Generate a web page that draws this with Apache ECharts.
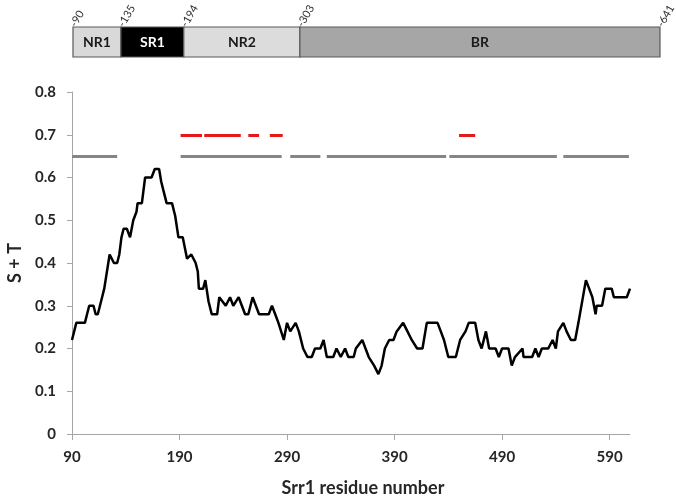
<!DOCTYPE html>
<html>
<head>
<meta charset="utf-8">
<script src="https://cdn.jsdelivr.net/npm/echarts@6/dist/echarts.min.js"></script>
<style>
  html, body { margin: 0; padding: 0; background: #fff; }
  #main { width: 676px; height: 497px; }
</style>
</head>
<body>
<div id="main"></div>
<script>
// domain map of Srr1
const domainNames = ['NR1', 'SR1', 'NR2', 'BR'];
const domainStarts = [90, 135, 194, 303];
const domainEnds = [135, 194, 303, 641];
const boundaryTicks = [90, 135, 194, 303, 641];

// S+T profile (residue, fraction)
const residues = [90, 94, 102, 104, 106, 110, 112, 114, 116, 118, 120, 125, 126, 129, 132, 134, 136, 138, 141, 144,
  147, 150, 151, 155, 158, 164, 167, 171, 173, 175, 178, 183, 186, 189, 193, 197, 201, 205, 207, 208,
  212, 214, 217, 220, 225, 227, 233, 237, 240, 245, 248, 251, 254, 258, 264, 273, 276, 279, 282, 287,
  290, 293, 298, 301, 305, 309, 313, 316, 321, 324, 327, 333, 336, 340, 344, 347, 352, 354, 360, 363,
  366, 371, 375, 378, 381, 385, 389, 392, 398, 402, 406, 411, 416, 420, 430, 433, 436, 440, 447, 451,
  456, 459, 465, 468, 471, 475, 478, 484, 487, 490, 496, 499, 502, 509, 510, 518, 521, 524, 527, 533,
  537, 540, 542, 547, 550, 554, 558, 561, 568, 571, 574, 577, 578, 583, 586, 592, 594, 606, 609];
const stValues = [0.22, 0.26, 0.26, 0.28, 0.30, 0.30, 0.28, 0.28, 0.30, 0.32, 0.34, 0.42, 0.42, 0.40, 0.40, 0.42, 0.46, 0.48, 0.48, 0.46,
  0.50, 0.52, 0.54, 0.54, 0.60, 0.60, 0.62, 0.62, 0.59, 0.57, 0.54, 0.54, 0.51, 0.46, 0.46, 0.41, 0.42, 0.40, 0.38, 0.34,
  0.34, 0.36, 0.31, 0.28, 0.28, 0.32, 0.30, 0.32, 0.30, 0.32, 0.30, 0.28, 0.28, 0.32, 0.28, 0.28, 0.30, 0.28, 0.26, 0.22,
  0.26, 0.24, 0.26, 0.24, 0.20, 0.18, 0.18, 0.20, 0.20, 0.22, 0.18, 0.18, 0.20, 0.18, 0.20, 0.18, 0.18, 0.20, 0.22, 0.20,
  0.18, 0.16, 0.14, 0.16, 0.20, 0.22, 0.22, 0.24, 0.26, 0.24, 0.22, 0.20, 0.20, 0.26, 0.26, 0.24, 0.22, 0.18, 0.18, 0.22,
  0.24, 0.26, 0.26, 0.22, 0.20, 0.24, 0.20, 0.20, 0.18, 0.20, 0.20, 0.16, 0.18, 0.20, 0.18, 0.18, 0.20, 0.18, 0.20, 0.20,
  0.22, 0.20, 0.24, 0.26, 0.24, 0.22, 0.22, 0.26, 0.36, 0.34, 0.32, 0.28, 0.30, 0.30, 0.34, 0.34, 0.32, 0.32, 0.34];

// region bars above the profile
const graySegments = [[90, 132], [191, 285], [293, 321], [327, 438], [441, 541], [547, 608]];
const redSegments = [[191, 211], [213, 247], [254, 264], [274, 286], [450, 465]];
const grayLevel = 0.65;
const redLevel = 0.7;

const xTicks = [90, 190, 290, 390, 490, 590];

const domainFill = ['#d9d9d9', '#000000', '#dcdcdc', '#a6a6a6'];
const domainText = ['#1a1a1a', '#ffffff', '#1a1a1a', '#1a1a1a'];
const font = 'Lato, "Open Sans", sans-serif';

let chart = echarts.init(document.getElementById('main'));

chart.setOption({
  animation: false,
  grid: [
    { left: 72, right: 46, top: 92, bottom: 63, outerBoundsMode: 'none' },
    { left: 73, right: 16, top: 27, height: 30, outerBoundsMode: 'none' }
  ],
  xAxis: [
    {
      type: 'value', min: 90, max: 609,
      name: 'Srr1 residue number', nameLocation: 'middle', nameGap: 45,
      nameTextStyle: { fontFamily: font, fontWeight: 'bold', fontSize: 18, color: '#262626', padding: [0, 0, 0, 24] },
      axisLine: { lineStyle: { color: '#a6a6a6', width: 1 } },
      axisTick: { customValues: xTicks, length: 6, lineStyle: { color: '#a6a6a6' } },
      axisLabel: { customValues: xTicks, margin: 16, fontFamily: font, fontWeight: 'bold', fontSize: 15, color: '#262626' },
      splitLine: { show: false }
    },
    {
      type: 'value', gridIndex: 1, min: 90, max: 641, position: 'top',
      axisLine: { show: false }, axisTick: { show: false }, splitLine: { show: false },
      axisLabel: {
        customValues: boundaryTicks, rotate: 60, margin: 1,
        formatter: v => '-' + v,
        fontFamily: font, fontSize: 11, color: '#333333'
      }
    }
  ],
  yAxis: [
    {
      type: 'value', min: 0, max: 0.8, interval: 0.1,
      name: 'S + T', nameLocation: 'middle', nameGap: 43,
      nameTextStyle: { fontFamily: font, fontWeight: 'bold', fontSize: 18, color: '#262626' },
      axisLine: { show: true, lineStyle: { color: '#a6a6a6', width: 1 } },
      axisTick: { show: true, length: 5, lineStyle: { color: '#a6a6a6' } },
      axisLabel: { margin: 16, fontFamily: font, fontWeight: 'bold', fontSize: 15, color: '#262626',
        formatter: v => (v === 0 ? '0' : v.toFixed(1)) },
      splitLine: { show: false }
    },
    { type: 'value', gridIndex: 1, min: 0, max: 1, show: false }
  ],
  series: [
    {
      type: 'custom',
      xAxisIndex: 1, yAxisIndex: 1,
      data: domainNames.map((n, i) => [domainStarts[i], domainEnds[i]]),
      renderItem: function (params, api) {
        let i = params.dataIndex;
        let p0 = api.coord([api.value(0), 1]);
        let p1 = api.coord([api.value(1), 0]);
        return {
          type: 'group',
          children: [
            {
              type: 'rect',
              shape: { x: p0[0], y: p0[1], width: p1[0] - p0[0], height: p1[1] - p0[1] },
              style: { fill: domainFill[i], stroke: '#595959', lineWidth: 1.2 }
            },
            {
              type: 'text',
              style: {
                text: domainNames[i], x: (p0[0] + p1[0]) / 2, y: (p0[1] + p1[1]) / 2,
                align: 'center', verticalAlign: 'middle',
                fill: domainText[i], font: 'bold 14px ' + font
              }
            }
          ]
        };
      }
    },
    {
      type: 'lines', coordinateSystem: 'cartesian2d',
      data: graySegments.map(s => ({ coords: [[s[0], grayLevel], [s[1], grayLevel]] })),
      lineStyle: { color: '#858585', width: 3, opacity: 1 },
      silent: true
    },
    {
      type: 'lines', coordinateSystem: 'cartesian2d',
      data: redSegments.map(s => ({ coords: [[s[0], redLevel], [s[1], redLevel]] })),
      lineStyle: { color: '#e3191c', width: 3, opacity: 1 },
      silent: true
    },
    {
      type: 'line',
      data: residues.map((r, i) => [r, stValues[i]]),
      symbol: 'none',
      lineStyle: { color: '#000000', width: 2.5 },
      z: 5
    }
  ]
});
</script>
</body>
</html>
